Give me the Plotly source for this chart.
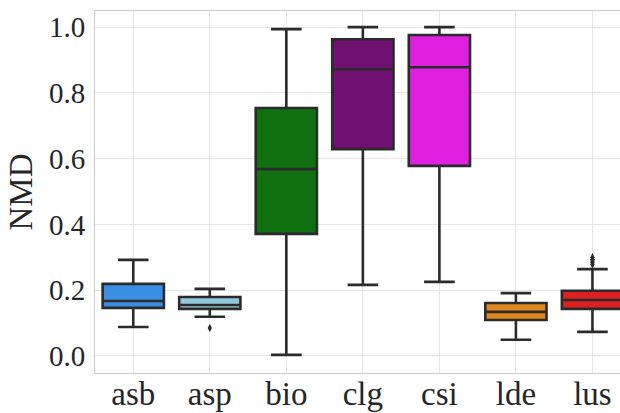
import plotly.graph_objects as go

# Per-group box statistics for NMD
groups = ["asb", "asp", "bio", "clg", "csi", "lde", "lus"]
lower_whisker = [0.088, 0.119, 0.003, 0.216, 0.225, 0.049, 0.073]
q1 = [0.146, 0.143, 0.371, 0.629, 0.578, 0.109, 0.143]
median = [0.167, 0.155, 0.568, 0.872, 0.878, 0.134, 0.170]
q3 = [0.219, 0.179, 0.754, 0.963, 0.976, 0.161, 0.198]
upper_whisker = [0.292, 0.204, 0.994, 1.000, 1.000, 0.191, 0.264]
colors = ["#3a8fe3", "#93c9de", "#107010", "#701070", "#df20df", "#df8920", "#df2020"]

# Points beyond the whiskers
outlier_group = ["asp", "lus", "lus", "lus", "lus", "lus"]
outlier_value = [0.085, 0.278, 0.284, 0.289, 0.294, 0.300]

EDGE = "#2b2b2b"
FONT = "Liberation Serif"

fig = go.Figure()
for i, g in enumerate(groups):
    fig.add_trace(go.Box(
        x=[g],
        q1=[q1[i]], median=[median[i]], q3=[q3[i]],
        lowerfence=[lower_whisker[i]], upperfence=[upper_whisker[i]],
        fillcolor=colors[i],
        line=dict(color=EDGE, width=2.6),
        width=0.8,
        whiskerwidth=0.5,
        boxpoints=False,
        showlegend=False,
        hoverinfo="skip",
    ))

fig.add_trace(go.Scatter(
    x=outlier_group, y=outlier_value, mode="markers",
    marker=dict(symbol="diamond-tall", size=6, color=EDGE),
    showlegend=False, hoverinfo="skip",
))

fig.update_layout(
    width=620, height=413,
    margin=dict(l=95, r=0, t=11, b=40),
    paper_bgcolor="white", plot_bgcolor="white",
    boxmode="overlay",
    font=dict(family=FONT, size=29, color="#262626"),
)
fig.update_xaxes(
    type="category", categoryorder="array", categoryarray=groups,
    range=[-0.5, 6.36],
    showgrid=True, gridcolor="#e6e6e6", gridwidth=1,
    showline=True, linecolor="#cccccc", linewidth=1, mirror=True,
    ticks="", automargin=False, ticklabelstandoff=-9,
    tickfont=dict(size=33),
)
fig.update_yaxes(
    range=[-0.052, 1.049],
    tickmode="array", tickvals=[0, 0.2, 0.4, 0.6, 0.8, 1.0],
    ticktext=["0.0", "0.2", "0.4", "0.6", "0.8", "1.0"],
    showgrid=True, gridcolor="#e6e6e6", gridwidth=1,
    showline=True, linecolor="#cccccc", linewidth=1, mirror=True,
    zeroline=False, automargin=False,
    ticks="outside", ticklen=3, tickcolor="white",
    tickfont=dict(size=29),
    title=dict(text="NMD", font=dict(size=33), standoff=6),
)

fig.write_html("out.html")
